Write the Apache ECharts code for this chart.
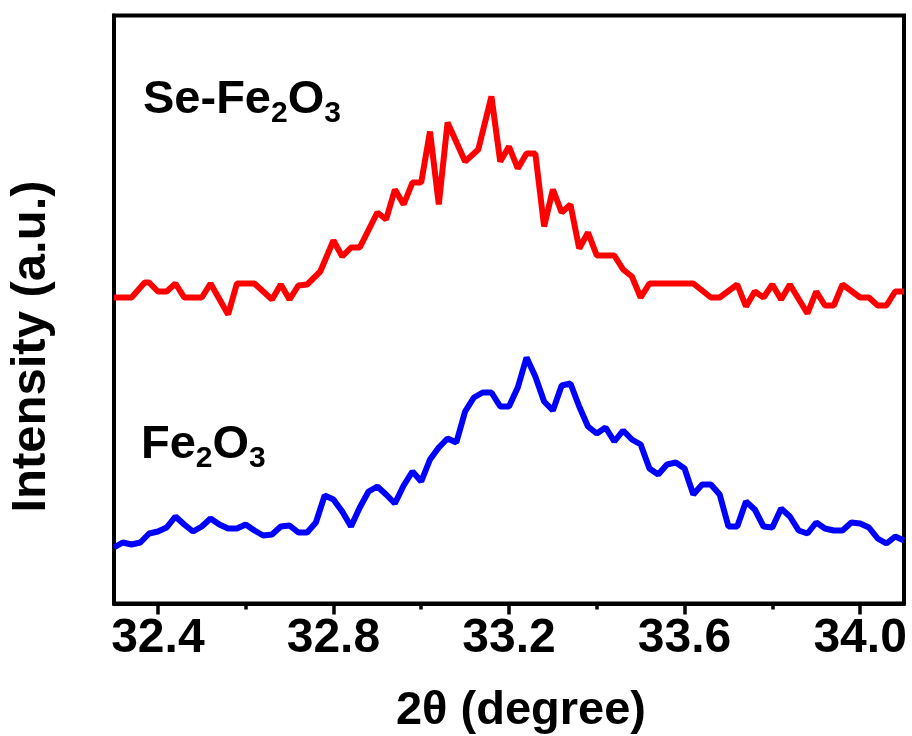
<!DOCTYPE html>
<html>
<head>
<meta charset="utf-8">
<script src="https://cdn.jsdelivr.net/npm/echarts@6/dist/echarts.min.js"></script>
<style>
html,body{margin:0;padding:0;background:#fff;}
#chart{width:912px;height:736px;}
</style>
</head>
<body>
<div id="chart"></div>
<script>
// 2θ positions (degree) and intensities (a.u.)
var seX = [32.30,32.34,32.37,32.38,32.40,32.42,32.44,32.46,32.50,32.52,32.56,32.58,32.62,32.66,32.68,32.70,32.72,32.74,32.77,32.80,32.82,32.84,32.86,32.90,32.92,32.94,32.96,32.98,33.00,33.02,33.04,33.06,33.10,33.13,33.16,33.18,33.20,33.22,33.24,33.26,33.28,33.30,33.32,33.34,33.36,33.38,33.40,33.44,33.46,33.48,33.50,33.52,33.62,33.66,33.68,33.72,33.74,33.76,33.78,33.80,33.82,33.84,33.88,33.90,33.92,33.94,33.96,34.00,34.02,34.04,34.06,34.08,34.10];
var seY = [306,306,321,321,312,312,320,306,306,320,289,320,320,304,319,304,318,319,332,363,347,356,356,391,384,414,399,421,421,472,399,481,442,454,507,442,457,435,450,450,377,414,391,399,355,371,348,348,334,327,306,320,320,306,306,319,297,312,306,319,304,319,290,312,298,298,319,306,306,298,298,312,312];

var feX = [32.30,32.32,32.34,32.36,32.38,32.40,32.42,32.44,32.46,32.48,32.50,32.52,32.54,32.56,32.58,32.60,32.62,32.64,32.66,32.68,32.70,32.72,32.74,32.76,32.78,32.80,32.82,32.84,32.86,32.88,32.90,32.92,32.94,32.96,32.98,33.00,33.02,33.04,33.06,33.08,33.10,33.12,33.14,33.16,33.18,33.20,33.22,33.24,33.26,33.28,33.30,33.32,33.34,33.36,33.38,33.40,33.42,33.44,33.46,33.48,33.50,33.52,33.54,33.56,33.58,33.60,33.62,33.64,33.66,33.68,33.70,33.72,33.74,33.76,33.78,33.80,33.82,33.84,33.86,33.88,33.90,33.92,33.94,33.96,33.98,34.00,34.02,34.04,34.06,34.08,34.10];
var feY = [56,61,59,61,70,72,76,87,79,72,77,85,79,75,75,79,73,68,69,77,78,71,71,81,108,104,92,77,96,112,117,109,100,118,132,122,144,156,165,161,192,206,211,211,197,197,216,246,227,202,193,218,220,197,177,170,176,162,173,164,159,135,129,139,141,135,109,119,119,109,77,77,102,94,77,76,95,87,73,70,81,75,73,73,81,80,76,65,60,67,63];

var majorTicks = [32.4,32.8,33.2,33.6,34.0];
var minorTicks = [32.6,33.0,33.4,33.8];
var majorLabels = ['32.4','32.8','33.2','33.6','34.0'];

var seriesNames = ['Se-Fe2O3','Fe2O3'];
var xName = '2θ (degree)';
var yName = 'Intensity (a.u.)';

function pairs(xs, ys){ return xs.map(function(x,i){ return [x, ys[i]]; }); }

var FONT = '"Liberation Sans", Arial, Helvetica, sans-serif';
var chart = echarts.init(document.getElementById('chart'), null, {renderer:'canvas'});

var mainRich = {
  m:{fontSize:47, fontWeight:'bold', fontFamily:FONT, fill:'#000', lineHeight:56},
  s:{fontSize:30, fontWeight:'bold', fontFamily:FONT, fill:'#000', lineHeight:18, verticalAlign:'bottom'}
};

chart.setOption({
  animation:false,
  backgroundColor:'#fff',
  grid:{left:114, right:8, top:15.5, bottom:132.5, show:true, borderColor:'#000', borderWidth:4,
        backgroundColor:'transparent', containLabel:false, outerBoundsMode:'none'},
  xAxis:[{
    type:'value', min:32.3, max:34.1,
    name:xName, nameLocation:'middle', nameGap:84,
    nameTextStyle:{fontSize:47, fontWeight:'bold', fontFamily:FONT, color:'#000', padding:[0,0,0,24]},
    axisLine:{show:true, onZero:false, lineStyle:{color:'#000', width:4}},
    axisTick:{show:true, inside:false, length:11, lineStyle:{color:'#000', width:3.5}, customValues:majorTicks},
    axisLabel:{show:true, margin:11, fontSize:48, fontWeight:'bold', fontFamily:FONT, color:'#000',
      customValues:majorTicks,
      formatter:function(v){ var i = majorTicks.findIndex(function(t){return Math.abs(t-v)<1e-6;}); return i>=0?majorLabels[i]:''; }},
    splitLine:{show:false}
  },{
    type:'value', min:32.3, max:34.1, position:'bottom',
    axisLine:{show:false},
    axisTick:{show:true, inside:false, length:6, lineStyle:{color:'#000', width:3.5}, customValues:minorTicks},
    axisLabel:{show:false},
    splitLine:{show:false}
  }],
  yAxis:{
    type:'value', min:0, max:588,
    name:yName, nameLocation:'middle', nameRotate:90, nameGap:58,
    nameTextStyle:{fontSize:49, fontWeight:'bold', fontFamily:FONT, color:'#000', padding:[0,74,0,0]},
    axisLine:{show:true, lineStyle:{color:'#000', width:4}},
    axisTick:{show:false}, axisLabel:{show:false}, splitLine:{show:false}
  },
  series:[
    {name:seriesNames[0], type:'line', data:pairs(seX, seY), showSymbol:false, symbol:'none',
     lineStyle:{color:'#FF0000', width:6}, itemStyle:{color:'#FF0000'}},
    {name:seriesNames[1], type:'line', data:pairs(feX, feY), showSymbol:false, symbol:'none',
     lineStyle:{color:'#0000FF', width:6}, itemStyle:{color:'#0000FF'}}
  ],
  graphic:[
    {type:'text', left:143, top:77, style:{text:'{m|Se-Fe}{s|2}{m|O}{s|3}', rich:mainRich}},
    {type:'text', left:141, top:422, style:{text:'{m|Fe}{s|2}{m|O}{s|3}', rich:mainRich}}
  ]
});
</script>
</body>
</html>
